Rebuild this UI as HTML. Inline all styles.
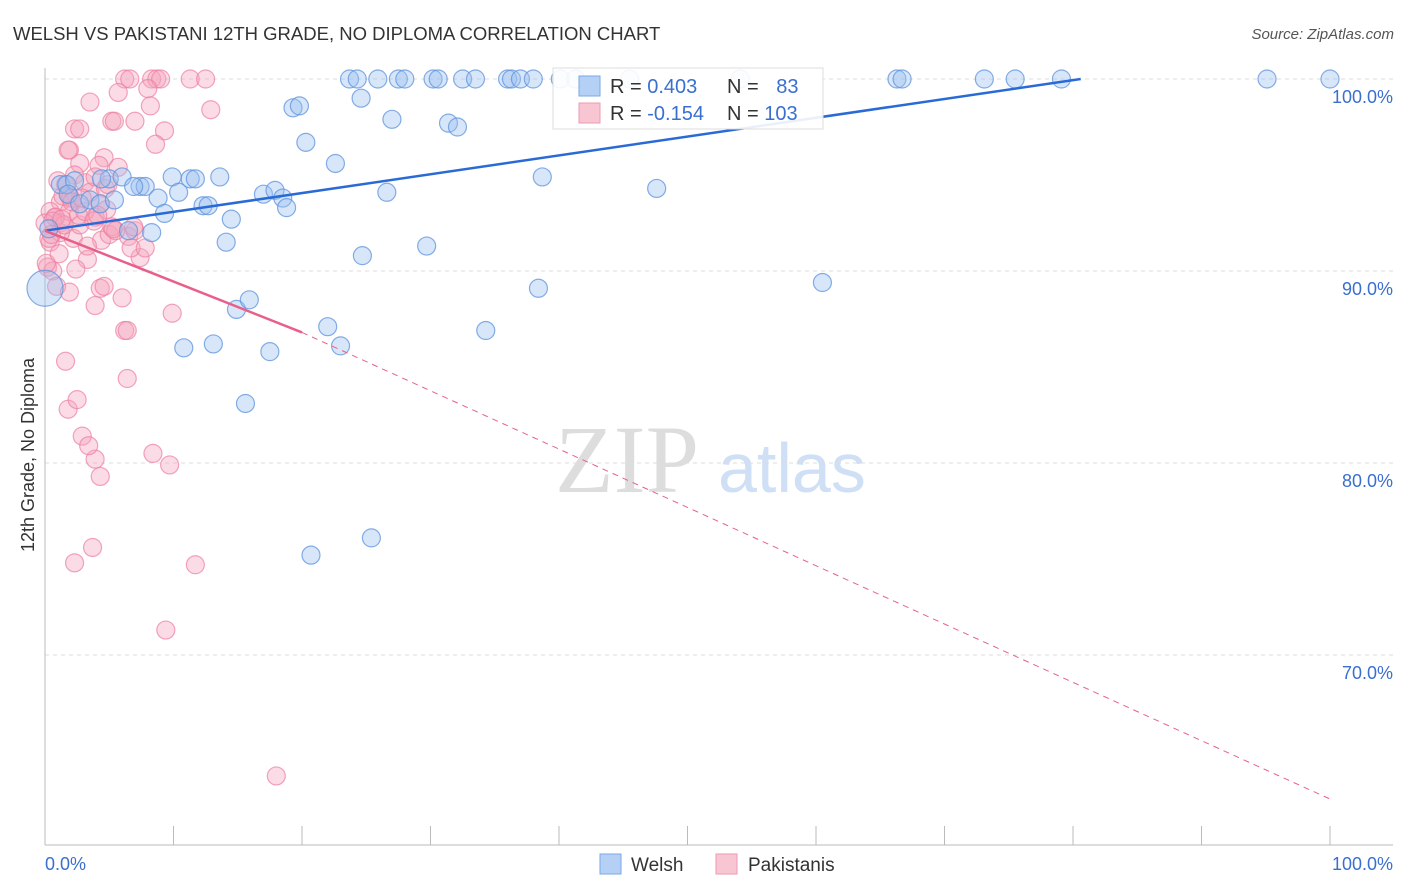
<!DOCTYPE html>
<html><head><meta charset="utf-8"><style>
body{margin:0;background:#fff;font-family:"Liberation Sans",sans-serif}
svg{display:block}
</style></head><body>
<svg id="c" width="1406" height="892">
<text x="13" y="40" font-size="18.5" fill="#333">WELSH VS PAKISTANI 12TH GRADE, NO DIPLOMA CORRELATION CHART</text>
<text x="1394" y="39" font-size="15" fill="#555" text-anchor="end" font-style="italic">Source: ZipAtlas.com</text>
<text x="34" y="455" font-size="18" fill="#333" transform="rotate(-90 34 455)" text-anchor="middle">12th Grade, No Diploma</text>
<text x="555" y="492" font-size="96" fill="#ddd" font-family="Liberation Serif">ZIP</text>
<text x="718" y="492" font-size="70" fill="#cfdff5">atlas</text>
<g id="grid"></g><g id="pts"></g><g id="lines"></g>
<g>
<rect x="553" y="68" width="270" height="61" fill="#fff" fill-opacity="0.9" stroke="#ddd"/>
<rect x="579" y="76" width="21" height="20" fill="#b5d0f5" stroke="#7aa7e6"/>
<rect x="579" y="103" width="21" height="20" fill="#f8c5d3" stroke="#ee9ab3"/>
<text x="610" y="93" font-size="20" fill="#333">R = <tspan fill="#3a6fd0">0.403</tspan></text>
<text x="727" y="93" font-size="20" fill="#333">N = <tspan fill="#3a6fd0" dx="12">83</tspan></text>
<text x="610" y="120" font-size="20" fill="#333">R = <tspan fill="#3a6fd0">-0.154</tspan></text>
<text x="727" y="120" font-size="20" fill="#333">N = <tspan fill="#3a6fd0">103</tspan></text>
</g>
<g>
<rect x="600" y="854" width="21" height="20" fill="#b5d0f5" stroke="#7aa7e6"/>
<text x="631" y="871" font-size="19" fill="#333">Welsh</text>
<rect x="716" y="854" width="21" height="20" fill="#f8c5d3" stroke="#ee9ab3"/>
<text x="748" y="871" font-size="19" fill="#333">Pakistanis</text>
</g>
<text x="45" y="870" font-size="18" fill="#3a6fd0">0.0%</text>
<text x="1393" y="870" font-size="18" fill="#3a6fd0" text-anchor="end">100.0%</text>
</svg>
<script>
const yTicks=[100,90,80,70];
const yTickLabels=["100.0%","90.0%","80.0%","70.0%"];
const welshX=[0,1.2,1.7,2.3,1.8,2.7,3.5,4.3,5.4,5,6,6.5,7.4,7.8,8.3,8.8,9.3,9.9,10.4,11.3,11.7,12.3,12.7,13.6,14.1,14.5,14.9,15.9,15.6,10.8,13.1,17.5,17,17.9,18.5,18.8,19.3,19.8,20.3,20.7,22,22.6,23,23.7,24.3,24.6,24.7,25.4,25.9,26.6,27,27.5,28,29.7,30.2,30.6,31.4,32.1,32.5,33.5,34.3,36,36.3,37,38,38.4,38.7,40.1,41.3,45.5,47.6,54.1,60.5,66.3,66.7,73.1,75.5,79.1,95.1,100,4.4,6.9,0.3];
const welshY=[89.1,94.5,94.5,94.7,94,93.5,93.7,93.5,93.7,94.8,94.9,92.1,94.4,94.4,92,93.8,93,94.9,94.1,94.8,94.8,93.4,93.4,94.9,91.5,92.7,88,88.5,83.1,86,86.2,85.8,94,94.2,93.8,93.3,98.5,98.6,96.7,75.2,87.1,95.6,86.1,100,100,99,90.8,76.1,100,94.1,97.9,100,100,91.3,100,100,97.7,97.5,100,100,86.9,100,100,100,100,89.1,94.9,100,100,100,94.3,100,89.4,100,100,100,100,100,100,100,94.8,94.4,92.2];
const pakX=[6.2,6.6,8.3,8.7,9,11.3,12.5,5.7,8,3.5,8.2,12.9,7,5.2,5.4,9.3,8.6,2.3,2.7,1.9,1.8,4.6,4.2,2.7,2.3,1.9,1.2,0.4,0.8,1.2,0.4,0.2,0.6,0.9,1.9,3.3,2.2,2.7,3.9,4.4,5,5.2,6.5,7,7.4,4.3,4.6,3.9,6,6.2,6.4,9.9,1.6,6.4,1.8,2.5,2.9,3.9,3.4,4.3,8.4,9.7,2.3,3.7,11.7,9.4,18,3.1,3.5,3.9,4.7,1.6,1.9,0.8,0,1.2,4.3,5.7,4.9,6.7,1,2,2.6,0.3,0.6,1.4,2.1,3.1,3.8,4.8,5.5,0.1,1.1,2.9,4.1,5.3,7.8,0.5,1.5,3.3,6.9,2.4,1.3];
const pakY=[100,100,100,100,100,100,100,99.3,99.5,98.8,98.6,98.4,97.8,97.8,97.8,97.3,96.6,97.4,97.4,96.3,96.3,95.9,95.5,95.6,95,93.9,93.6,93.1,92.8,92.5,91.5,90.2,90,89.2,88.9,90.6,91.7,92.4,92.8,91.6,91.9,92.3,91.8,92.1,90.7,89.1,89.2,88.2,88.6,86.9,86.9,87.8,85.3,84.4,82.8,83.3,81.4,80.2,80.9,79.3,80.5,79.9,74.8,75.6,74.7,71.3,63.7,94.6,94.1,94.9,94.3,94.5,93.1,92.8,92.5,92,93.5,95.4,94.5,91.2,94.7,93.8,92.9,91.7,92.6,93.9,93.6,93.1,92.6,93.2,92.1,90.4,90.9,93.8,92.9,92.2,91.2,91.9,92.4,91.3,92.3,90.1,92.7];
const welshTrend=[[0,92.1],[80.6,100]];
const pakTrendSolid=[[0,92.1],[20,86.8]];
const pakTrendDash=[[20,86.8],[100,62.5]];
const X=v=>45+v*12.85, Y=v=>79+(100-v)*19.2;
const NS='http://www.w3.org/2000/svg';
function mk(t,a,p){const e=document.createElementNS(NS,t);for(const k in a)e.setAttribute(k,a[k]);p.appendChild(e);return e;}
const g=document.getElementById('grid');
yTicks.forEach((t,i)=>{
 const l=mk('line',{x1:45,x2:1393,y1:Y(t),y2:Y(t),stroke:'#ddd','stroke-dasharray':'4,4'},g);
 
 
 const tx=mk('text',{x:1393,y:Y(t)+24,'font-size':18,fill:'#3a6fd0','text-anchor':'end'},g);
 tx.textContent=yTickLabels[i];
 
 
});
const ax=mk('line',{x1:45,x2:1393,y1:845,y2:845,stroke:'#bbb'},g);


const ay=mk('line',{x1:45,x2:45,y1:68,y2:845,stroke:'#bbb'},g);


for(let i=0;i<=10;i++){const t=mk('line',{x1:X(i*10),x2:X(i*10),y1:826,y2:845,stroke:'#bbb'},g);
 
 }
const p=document.getElementById('pts');
pakX.forEach((x,i)=>{const c=mk('circle',{cx:X(x),cy:Y(pakY[i]),r:9,fill:'#f4a6bd','fill-opacity':0.4,stroke:'#ec7f9f','stroke-opacity':0.7,'stroke-width':1.2},p);
 
 });
welshX.forEach((x,i)=>{const c=mk('circle',{cx:X(x),cy:Y(welshY[i]),r:i==0?18:9,fill:'#9cc1ef','fill-opacity':0.4,stroke:'#5d93dd','stroke-opacity':0.75,'stroke-width':1.2},p);
 
 });
const L=document.getElementById('lines');
let a=mk('line',{x1:X(welshTrend[0][0]),y1:Y(welshTrend[0][1]),x2:X(welshTrend[1][0]),y2:Y(welshTrend[1][1]),stroke:'#2a6ad6','stroke-width':2.5},L);


a=mk('line',{x1:X(pakTrendSolid[0][0]),y1:Y(pakTrendSolid[0][1]),x2:X(pakTrendSolid[1][0]),y2:Y(pakTrendSolid[1][1]),stroke:'#e8608a','stroke-width':2.5},L);


a=mk('line',{x1:X(pakTrendDash[0][0]),y1:Y(pakTrendDash[0][1]),x2:X(pakTrendDash[1][0]),y2:Y(pakTrendDash[1][1]),stroke:'#e8608a','stroke-width':1,'stroke-dasharray':'6,5'},L);


</script>
</body></html>
